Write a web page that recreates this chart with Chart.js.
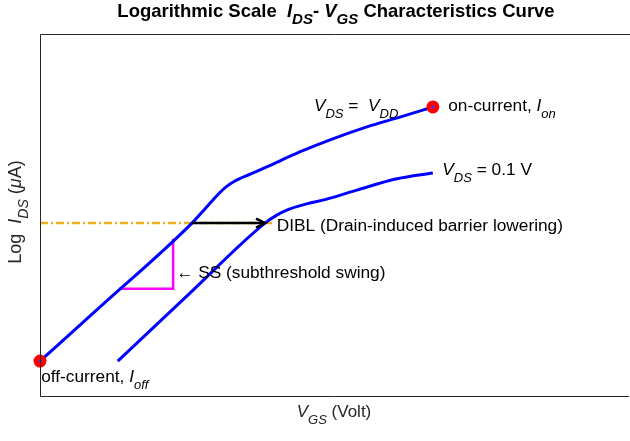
<!DOCTYPE html>
<html>
<head>
<meta charset="utf-8">
<script src="https://cdn.jsdelivr.net/npm/chart.js@4/dist/chart.umd.min.js"></script>
<style>
  html, body { margin: 0; padding: 0; background: #ffffff; }
  #wrap { width: 630px; height: 441px; }
</style>
</head>
<body>
<div id="wrap"><canvas id="c" width="630" height="441"></canvas></div>
<script>
// V_GS (arbitrary volt units) and log(I_DS) values for the two drain biases
const vgsHigh = [0, 1.02, 2.58, 2.80, 3.01, 3.16, 3.31, 3.57, 3.85, 4.41, 4.97, 5.55, 6.11, 6.67];
const logIdsHigh = [0.99, 2.48, 4.79, 5.18, 5.56, 5.79, 5.95, 6.14, 6.34, 6.75, 7.11, 7.44, 7.71, 7.99];
const vgsLow = [1.32, 2.55, 3.82, 4.02, 4.19, 4.53, 4.87, 5.38, 6.06, 6.67];
const logIdsLow = [0.99, 2.87, 4.79, 5.01, 5.15, 5.32, 5.45, 5.70, 6.01, 6.17];

// reference current level used for the DIBL shift
const diblLevel = 4.79;
const diblLineEnd = 3.99;

// subthreshold-swing triangle corners
const ssX = [1.34, 2.26, 2.26];
const ssY = [2.98, 2.98, 4.36];

const toPoints = (xs, ys) => xs.map((x, i) => ({ x, y: ys[i] }));

// rich-text pieces: it = italic, sub = subscript
const titleParts = [
  { t: 'Logarithmic Scale  ' }, { t: 'I', it: 1 }, { t: 'DS', it: 1, sub: 1 },
  { t: '- ' }, { t: 'V', it: 1 }, { t: 'GS', it: 1, sub: 1 }, { t: ' Characteristics Curve' }
];
const xLabelParts = [{ t: 'V', it: 1 }, { t: 'GS', it: 1, sub: 1 }, { t: ' (Volt)' }];
const yLabelParts = [
  { t: 'Log  ' }, { t: 'I', it: 1 }, { t: 'DS', it: 1, sub: 1 }, { t: ' (' }, { t: 'μ', it: 1 }, { t: 'A)' }
];

// annotation text, anchored at its left baseline in data units
const notes = [
  { x: 4.65, y: 7.88, parts: [{ t: 'V', it: 1 }, { t: 'DS', it: 1, sub: 1 }, { t: ' =  ' }, { t: 'V', it: 1 }, { t: 'DD', it: 1, sub: 1 }] },
  { x: 6.93, y: 7.88, parts: [{ t: 'on-current, ' }, { t: 'I', it: 1 }, { t: 'on', it: 1, sub: 1 }] },
  { x: 6.83, y: 6.12, parts: [{ t: 'V', it: 1 }, { t: 'DS', it: 1, sub: 1 }, { t: ' = 0.1 V' }] },
  { x: 0.02, y: 0.41, parts: [{ t: 'off-current, ' }, { t: 'I', it: 1 }, { t: 'off', it: 1, sub: 1 }] },
  { x: 4.02, y: 4.57, parts: [{ t: 'DIBL (Drain-induced barrier lowering)' }] },
  { x: 2.31, y: 3.28, parts: [{ t: '\u2190 SS (subthreshold swing)' }] }
];

const FAMILY = '"Liberation Sans", Arial, Helvetica, sans-serif';
function fontOf(size, bold, italic) {
  return (italic ? 'italic ' : '') + (bold ? 'bold ' : '') + size + 'px ' + FAMILY;
}

function drawRich(ctx, parts, x, y, o) {
  const widths = parts.map(p => {
    ctx.font = fontOf(p.sub ? o.subSize : o.size, o.bold, p.it);
    return ctx.measureText(p.t).width;
  });
  const total = widths.reduce((a, b) => a + b, 0);
  let cx = o.align === 'center' ? x - total / 2 : x;
  ctx.textAlign = 'left';
  ctx.textBaseline = 'alphabetic';
  ctx.fillStyle = o.color;
  parts.forEach((p, i) => {
    ctx.font = fontOf(p.sub ? o.subSize : o.size, o.bold, p.it);
    ctx.fillText(p.t, cx, y + (p.sub ? o.subDy : 0));
    cx += widths[i];
  });
}

const decorations = {
  id: 'decorations',
  afterDatasetsDraw(chart) {
    const { ctx, chartArea: a, scales: { x, y } } = chart;
    ctx.save();

    // axes box: left, top and bottom edges
    ctx.strokeStyle = '#262626';
    ctx.lineWidth = 1;
    ctx.beginPath();
    ctx.moveTo(630, a.top + 0.5);
    ctx.lineTo(a.left + 0.5, a.top + 0.5);
    ctx.lineTo(a.left + 0.5, a.bottom - 0.5);
    ctx.lineTo(a.right, a.bottom - 0.5);
    ctx.stroke();

    // DIBL arrow between the two curves at the reference level
    const ay = y.getPixelForValue(diblLevel);
    const ax0 = x.getPixelForValue(vgsHigh[2]);
    const ax1 = x.getPixelForValue(vgsLow[2]);
    ctx.strokeStyle = '#000000';
    ctx.lineWidth = 2.5;
    ctx.lineCap = 'butt';
    ctx.beginPath();
    ctx.moveTo(ax0, ay);
    ctx.lineTo(ax1 - 1, ay);
    ctx.stroke();
    ctx.beginPath();
    ctx.moveTo(ax1 - 9, ay - 4.5);
    ctx.lineTo(ax1, ay);
    ctx.lineTo(ax1 - 9, ay + 4.5);
    ctx.stroke();

    // annotations
    notes.forEach(n => {
      drawRich(ctx, n.parts, x.getPixelForValue(n.x), y.getPixelForValue(n.y),
        { size: 17.3, subSize: 13, subDy: 7, bold: false, align: 'left', color: '#000000' });
    });

    // title
    drawRich(ctx, titleParts, 336, 17,
      { size: 18.5, subSize: 15, subDy: 7, bold: true, align: 'center', color: '#000000' });

    // x axis label
    drawRich(ctx, xLabelParts, 334, 417,
      { size: 17, subSize: 13, subDy: 7, bold: false, align: 'center', color: '#262626' });

    // y axis label (rotated)
    ctx.translate(21, 212);
    ctx.rotate(-Math.PI / 2);
    drawRich(ctx, yLabelParts, 0, 0,
      { size: 18, subSize: 14, subDy: 7, bold: false, align: 'center', color: '#262626' });

    ctx.restore();
  }
};

new Chart(document.getElementById('c'), {
  type: 'scatter',
  data: {
    datasets: [
      {
        label: 'VDS = VDD',
        data: toPoints(vgsHigh, logIdsHigh),
        showLine: true,
        borderColor: '#0000ff',
        borderWidth: 3,
        pointRadius: 0,
        cubicInterpolationMode: 'monotone',
        order: 2
      },
      {
        label: 'VDS = 0.1 V',
        data: toPoints(vgsLow, logIdsLow),
        showLine: true,
        borderColor: '#0000ff',
        borderWidth: 3,
        pointRadius: 0,
        cubicInterpolationMode: 'monotone',
        order: 2
      },
      {
        label: 'DIBL level',
        data: [{ x: 0, y: diblLevel }, { x: diblLineEnd, y: diblLevel }],
        showLine: true,
        borderColor: '#EDB120',
        borderWidth: 2.5,
        borderDash: [8, 3, 2, 3],
        pointRadius: 0,
        order: 3
      },
      {
        label: 'SS',
        data: toPoints(ssX, ssY),
        showLine: true,
        borderColor: '#ff00ff',
        borderWidth: 2.5,
        pointRadius: 0,
        tension: 0,
        order: 2
      },
      {
        label: 'Ion / Ioff',
        data: [
          { x: vgsHigh[0], y: logIdsHigh[0] },
          { x: vgsHigh[vgsHigh.length - 1], y: logIdsHigh[logIdsHigh.length - 1] }
        ],
        showLine: false,
        clip: false,
        pointRadius: 4,
        pointBorderWidth: 5,
        pointBorderColor: '#ff0000',
        pointBackgroundColor: '#3a3aff',
        order: 1
      }
    ]
  },
  options: {
    responsive: false,
    animation: false,
    devicePixelRatio: 1,
    layout: { autoPadding: false, padding: { left: 40, top: 34, right: 1, bottom: 44 } },
    plugins: { legend: { display: false }, tooltip: { enabled: false }, title: { display: false } },
    scales: {
      x: { type: 'linear', min: 0, max: 10, display: false },
      y: { type: 'linear', min: 0, max: 10, display: false }
    },
    elements: { point: { hoverRadius: 0 } }
  },
  plugins: [decorations]
});
</script>
</body>
</html>
